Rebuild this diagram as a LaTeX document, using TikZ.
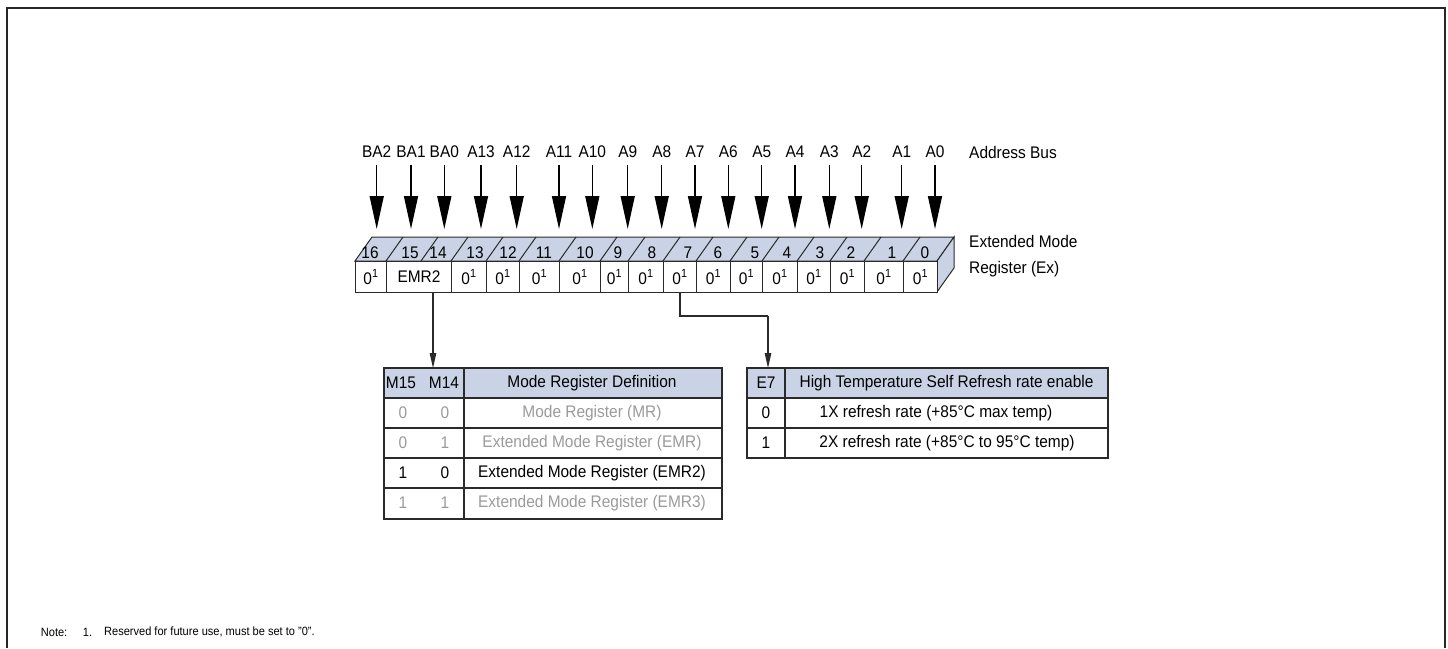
\documentclass[tikz,border=0pt]{standalone}
\usepackage{fontspec}
\setmainfont[FakeStretch=0.92]{Liberation Sans}
\usetikzlibrary{arrows.meta}
\definecolor{bandblue}{HTML}{C9D3E5}
\definecolor{graytxt}{HTML}{9A9A9A}
\definecolor{linec}{HTML}{2A2A2A}
\newcommand{\zerosup}{0\textsuperscript{1}}
\begin{document}
\begin{tikzpicture}[x=1pt,y=-1pt,
  every node/.style={font=\fontsize{16.8}{19}\selectfont, inner sep=0pt, text=black},
  bitbox/.style={draw=linec, line width=1pt, fill=white, minimum height=31pt, anchor=north west},
  busarrow/.style={line width=1.5pt, shorten <=7pt, -{Triangle[width=14pt,length=33pt]}},
  linkarrow/.style={draw=linec, line width=1.1pt, -{Triangle[width=6.5pt,length=15pt]}},
  tblline/.style={draw=linec, line width=1.1pt},
  graycell/.style={text=graytxt},
  notefont/.style={font=\fontsize{12}{14}\selectfont}]
\useasboundingbox (0,0) rectangle (1448,648);
% frame
\draw[line width=2pt, black!85] (7,648) -- (7,8) -- (1445,8) -- (1445,648);

% address bus labels and arrows
\foreach \t/\x [count=\i] in {BA2/376.7,BA1/411,BA0/444.3,A13/481,A12/516.7,A11/559,A10/592.3,A9/627.7,A8/661.7,A7/695,A6/728.3,A5/761.7,A4/795,A3/829.3,A2/861.7,A1/901.7,A0/935}{
  \node (ab\i) at (\x,152) {\t};
  \coordinate (at\i) at (\x,229);
  \draw[busarrow] (ab\i) -- (at\i);
}
\node[anchor=west] (abus) at (969,152) {Address Bus};

% top face of register
\fill[bandblue, draw=linec, line width=1pt] (355,261) -- (372,237) -- (954,237) -- (937,261) -- cycle;
% side face
\fill[bandblue, draw=linec, line width=1pt] (937,261) -- (954,237) -- (954,268) -- (937,292) -- cycle;
% slashes on top face
\foreach \x in {386,421,451,486,519,559,600,628,663,696,730,762,797,830,864,903}{
  \draw[linec, line width=1pt] (\x,261) -- (\x+17,237);
}
% bit numbers
\foreach \t/\x in {16/370,15/410,14/438,13/475,12/508,11/544,10/585,9/618,8/652,7/688,6/718,5/755,4/787,3/820,2/851,1/892,0/925}{
  \node (bn\t) at (\x,253) {\t};
}
% front boxes
\foreach \n/\l/\r/\t in {16/355/386/\zerosup, e2/386/451/EMR2, 13/451/486/\zerosup, 12/486/519/\zerosup, 11/519/559/\zerosup, 10/559/600/\zerosup, 9/600/628/\zerosup, 8/628/663/\zerosup, 7/663/696/\zerosup, 6/696/730/\zerosup, 5/730/762/\zerosup, 4/762/797/\zerosup, 3/797/830/\zerosup, 2/830/864/\zerosup, 1/864/903/\zerosup, 0/903/937/\zerosup}{
  \pgfmathsetmacro{\w}{\r-\l}
  \node[bitbox, minimum width=\w pt] (b\n) at (\l,261) {\t};
}
\node[anchor=west] (exm1) at (969,241) {Extended Mode};
\node[anchor=west] (exm2) at (969,269) {Register (Ex)};

% left table
\node[anchor=north west, minimum width=338pt, minimum height=151pt] (tblL) at (384,368) {};
\fill[bandblue] (384,368) rectangle (722,398);
\draw[tblline] (384,368) rectangle (722,519);
\foreach \y in {398,428,458,488}{\draw[tblline] (384,\y) -- (722,\y);}
\draw[tblline] (464,368) -- (464,519);
\node (hm15) at (401,383) {M15};
\node (hm14) at (444,383) {M14};
\node (hmrd) at (592,383) {Mode Register Definition};
\node[graycell] (r1a) at (403,413) {0};
\node[graycell] (r1b) at (445,413) {0};
\node[graycell] (r1c) at (592,413) {Mode Register (MR)};
\node[graycell] (r2a) at (403,443) {0};
\node[graycell] (r2b) at (445,443) {1};
\node[graycell] (r2c) at (592,443) {Extended Mode Register (EMR)};
\node (r3a) at (403,473) {1};
\node (r3b) at (445,473) {0};
\node (r3c) at (592,473) {Extended Mode Register (EMR2)};
\node[graycell] (r4a) at (403,503) {1};
\node[graycell] (r4b) at (445,503) {1};
\node[graycell] (r4c) at (592,503) {Extended Mode Register (EMR3)};

% right table
\node[anchor=north west, minimum width=361pt, minimum height=90pt] (tblR) at (747,368) {};
\fill[bandblue] (747,368) rectangle (1108,398);
\draw[tblline] (747,368) rectangle (1108,458);
\foreach \y in {398,428}{\draw[tblline] (747,\y) -- (1108,\y);}
\draw[tblline] (785,368) -- (785,458);
\node (he7) at (766,383) {E7};
\node (hht) at (946.5,383) {High Temperature Self Refresh rate enable};
\node (s1a) at (766,413) {0};
\node (s1b) at (936,413) {1X refresh rate (+85°C max temp)};
\node (s2a) at (766,443) {1};
\node (s2b) at (947,443) {2X refresh rate (+85°C to 95°C temp)};

% connectors
\coordinate (c1) at (433,292);
\draw[linkarrow] (c1) -- (c1 |- tblL.north);
\coordinate (c2) at (768,316);
\draw[linec, line width=1.1pt] (b7.south) |- (c2);
\draw[linkarrow] (c2) -- (c2 |- tblR.north);

% note
\node[notefont, anchor=west] (n1) at (40.7,632) {Note:};
\node[notefont, anchor=west] (n2) at (82.7,632) {1.};
\node[notefont, anchor=west] (n3) at (104,632) {Reserved for future use, must be set to "0".};
\end{tikzpicture}
\end{document}
